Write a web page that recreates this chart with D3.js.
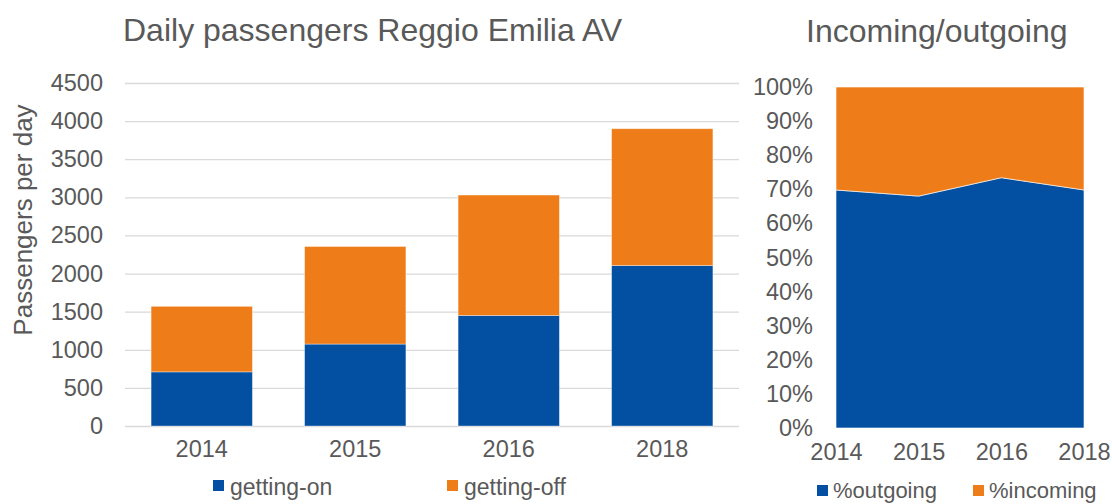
<!DOCTYPE html>
<html>
<head>
<meta charset="utf-8">
<script src="https://cdn.jsdelivr.net/npm/d3@7"></script>
<style>
  html, body { margin: 0; padding: 0; background: #fff; }
  svg { display: block; font-family: "Liberation Sans", Arial, sans-serif; }
</style>
</head>
<body>
<svg id="chart" width="1112" height="504"></svg>
<script>
// Daily passengers (stacked bars)
const years = ["2014", "2015", "2016", "2018"];
const gettingOn = [710, 1075, 1450, 2105];
const gettingOff = [860, 1280, 1580, 1795];
const passengerTicks = [0, 500, 1000, 1500, 2000, 2500, 3000, 3500, 4000, 4500];

// Share of outgoing vs incoming (100% stacked area)
const pctOutgoing = [69.8, 68.0, 73.4, 69.8];
const pctIncoming = pctOutgoing.map(v => 100 - v);
const pctTicks = [0, 10, 20, 30, 40, 50, 60, 70, 80, 90, 100];

const BLUE = "#034fa2";
const ORANGE = "#ee7d19";
const TEXT = "#595959";
const GRID = "#d9d9d9";
const FONT = "Liberation Sans, Arial, sans-serif";
const TICK_SIZE = 23.5;

const svg = d3.select("#chart");

// ---------- Left chart ----------
const left = { x0: 125, x1: 739, y0: 426, y1: 83 };
const x = d3.scaleBand().domain(years).range([left.x0, left.x1])
  .paddingInner(0.34).paddingOuter(0.17);
const y = d3.scaleLinear().domain([0, 4500]).range([left.y0, left.y1]);

svg.append("text")
  .attr("x", 123).attr("y", 41)
  .attr("font-size", 32).attr("fill", TEXT)
  .text("Daily passengers Reggio Emilia AV");

// gridlines
svg.append("g")
  .selectAll("line").data(passengerTicks).join("line")
  .attr("x1", left.x0).attr("x2", left.x1)
  .attr("y1", d => y(d) + 0.5).attr("y2", d => y(d) + 0.5)
  .attr("stroke", GRID).attr("stroke-width", 1.3);

// y axis labels
const yAxis = svg.append("g").attr("transform", `translate(${left.x0 - 22},0)`)
  .call(d3.axisLeft(y).tickValues(passengerTicks).tickFormat(d3.format("d")).tickSize(0).tickPadding(0));
yAxis.select(".domain").remove();
yAxis.selectAll("text").attr("font-size", TICK_SIZE).attr("fill", TEXT).attr("font-family", FONT);

svg.append("text")
  .attr("transform", "translate(32,220) rotate(-90)")
  .attr("text-anchor", "middle").attr("font-size", 26).attr("fill", TEXT)
  .text("Passengers per day");

// stacked bars
const stackRows = years.map((yr, i) => ({ year: yr, on: gettingOn[i], off: gettingOff[i] }));
const stacked = d3.stack().keys(["on", "off"])(stackRows);
const colors = { on: BLUE, off: ORANGE };
svg.append("g").selectAll("g").data(stacked).join("g")
  .attr("fill", d => colors[d.key])
  .selectAll("rect").data(d => d).join("rect")
  .attr("x", d => x(d.data.year))
  .attr("width", x.bandwidth())
  .attr("y", d => y(d[1]))
  .attr("height", d => y(d[0]) - y(d[1]))
  .attr("stroke", "#fff").attr("stroke-opacity", 0.45).attr("stroke-width", 0.8);

// x axis labels
const xAxis = svg.append("g").attr("transform", `translate(0,${left.y0 + 14})`)
  .call(d3.axisBottom(x).tickSize(0).tickPadding(0));
xAxis.select(".domain").remove();
xAxis.selectAll("text").attr("font-size", TICK_SIZE).attr("fill", TEXT)
  .attr("font-family", FONT).attr("dy", "0.71em");

// legend left
const legL = [{ label: "getting-on", color: BLUE, x: 213 }, { label: "getting-off", color: ORANGE, x: 447 }];
const lg = svg.append("g").selectAll("g").data(legL).join("g");
lg.append("rect").attr("x", d => d.x).attr("y", 480).attr("width", 11).attr("height", 11).attr("fill", d => d.color);
lg.append("text").attr("x", d => d.x + 17).attr("y", 495).attr("font-size", 23).attr("fill", TEXT).text(d => d.label);

// ---------- Right chart ----------
const right = { x0: 836, x1: 1084, y0: 428, y1: 87 };
const xp = d3.scalePoint().domain(years).range([right.x0, right.x1]);
const yp = d3.scaleLinear().domain([0, 100]).range([right.y0, right.y1]);

svg.append("text")
  .attr("x", 806).attr("y", 42)
  .attr("font-size", 32).attr("fill", TEXT)
  .text("Incoming/outgoing");

const pctRows = years.map((yr, i) => ({ year: yr, out: pctOutgoing[i], inc: pctIncoming[i] }));
const pctStack = d3.stack().keys(["out", "inc"])(pctRows);
const area = d3.area()
  .x(d => xp(d.data.year))
  .y0(d => yp(d[0]))
  .y1(d => yp(d[1]));
const pctColors = { out: BLUE, inc: ORANGE };
svg.append("g").selectAll("path").data(pctStack).join("path")
  .attr("d", area)
  .attr("fill", d => pctColors[d.key])
  .attr("stroke", "#fff").attr("stroke-opacity", 0.6).attr("stroke-width", 1);

const ypAxis = svg.append("g").attr("transform", "translate(813,0)")
  .call(d3.axisLeft(yp).tickValues(pctTicks).tickFormat(d => d + "%").tickSize(0).tickPadding(0));
ypAxis.select(".domain").remove();
ypAxis.selectAll("text").attr("font-size", TICK_SIZE).attr("fill", TEXT).attr("font-family", FONT);

const xpAxis = svg.append("g").attr("transform", `translate(0,${right.y0 + 15})`)
  .call(d3.axisBottom(xp).tickSize(0).tickPadding(0));
xpAxis.select(".domain").remove();
xpAxis.selectAll("text").attr("font-size", TICK_SIZE).attr("fill", TEXT)
  .attr("font-family", FONT).attr("dy", "0.71em");

// legend right
const legR = [{ label: "%outgoing", color: BLUE, x: 817 }, { label: "%incoming", color: ORANGE, x: 973 }];
const rg = svg.append("g").selectAll("g").data(legR).join("g");
rg.append("rect").attr("x", d => d.x).attr("y", 485).attr("width", 11).attr("height", 11).attr("fill", d => d.color);
rg.append("text").attr("x", d => d.x + 16).attr("y", 498).attr("font-size", 22).attr("fill", TEXT).text(d => d.label);
</script>
</body>
</html>
